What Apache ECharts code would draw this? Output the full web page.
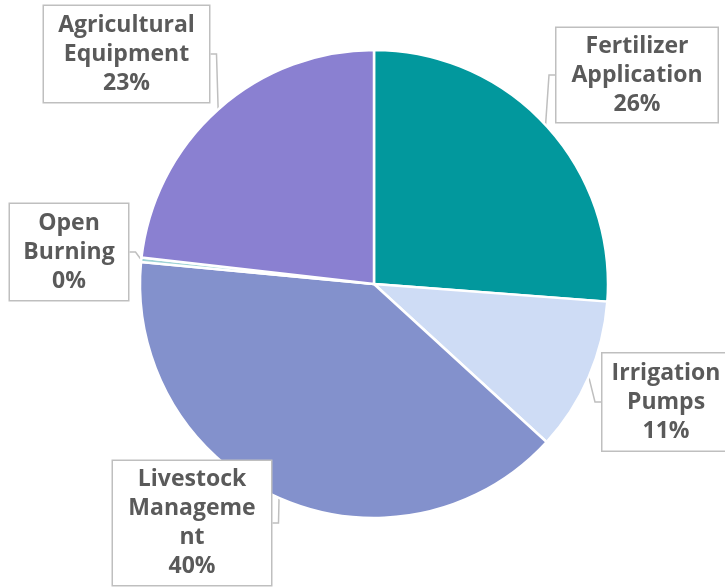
<!DOCTYPE html>
<html>
<head>
<meta charset="utf-8">
<script src="https://cdn.jsdelivr.net/npm/echarts@6/dist/echarts.min.js"></script>
<style>
html,body{margin:0;padding:0;background:#fff;}
#chart{width:725px;height:587px;}
</style>
</head>
<body>
<div id="chart"></div>
<script>
// ---- data ----
const categories = ["Fertilizer Application", "Irrigation Pumps", "Livestock Management", "Open Burning", "Agricultural Equipment"];
const values = [26.2, 10.6, 39.7, 0.3, 23.2];
const labelTexts = ["Fertilizer\nApplication", "Irrigation\nPumps", "Livestock\nManageme\nnt", "Open\nBurning", "Agricultural\nEquipment"];

// ---- styles / layout ----
const colors = ["#02989D", "#CEDCF5", "#8391CC", "#9FD3D6", "#8A80D1"];
const labelBoxes = [
  {cx: 637, cy: 75, w: 161, h: 94},
  {cx: 666, cy: 402, w: 127, h: 97},
  {cx: 192, cy: 523, w: 158, h: 124},
  {cx: 69, cy: 252, w: 118, h: 96},
  {cx: 126.5, cy: 54, w: 165, h: 96}
];
const LH = 29;

const chart = echarts.init(document.getElementById('chart'), null, {renderer: 'canvas'});
const data = categories.map((name, i) => {
  const lines = labelTexts[i].split('\n').length + 1;
  const b = labelBoxes[i];
  const pv = Math.max(0, (b.h - lines * LH) / 2);
  return {
    name: name,
    value: values[i],
    itemStyle: {color: colors[i]},
    label: {width: b.w - 2, padding: [pv, 1, pv, 1]}
  };
});

chart.setOption({
  animation: false,
  backgroundColor: '#ffffff',
  series: [{
    type: 'pie',
    center: [374, 284],
    radius: 234,
    startAngle: 90,
    clockwise: true,
    avoidLabelOverlap: false,
    minAngle: 0,
    data: data,
    itemStyle: {borderColor: '#ffffff', borderWidth: 2.5},
    label: {
      show: true,
      formatter: function (p) {
        return labelTexts[p.dataIndex] + '\n' + Math.round(p.percent) + '%';
      },
      fontFamily: 'Open Sans',
      fontWeight: 'bold',
      fontSize: 23,
      lineHeight: LH,
      color: '#5a5a5a',
      align: 'center',
      overflow: 'none',
      backgroundColor: '#ffffff',
      borderColor: '#BFBFBF',
      borderWidth: 1.5
    },
    labelLine: {
      show: true,
      length: 8,
      length2: 6,
      smooth: false,
      lineStyle: {color: '#BFBFBF', width: 1.5}
    },
    labelLayout: function (params) {
      const b = labelBoxes[params.dataIndex];
      return {
        x: b.cx,
        y: b.cy,
        align: 'center',
        verticalAlign: 'middle',
        hideOverlap: false,
        moveOverlap: null
      };
    },
    emphasis: {disabled: true}
  }]
});
</script>
</body>
</html>
